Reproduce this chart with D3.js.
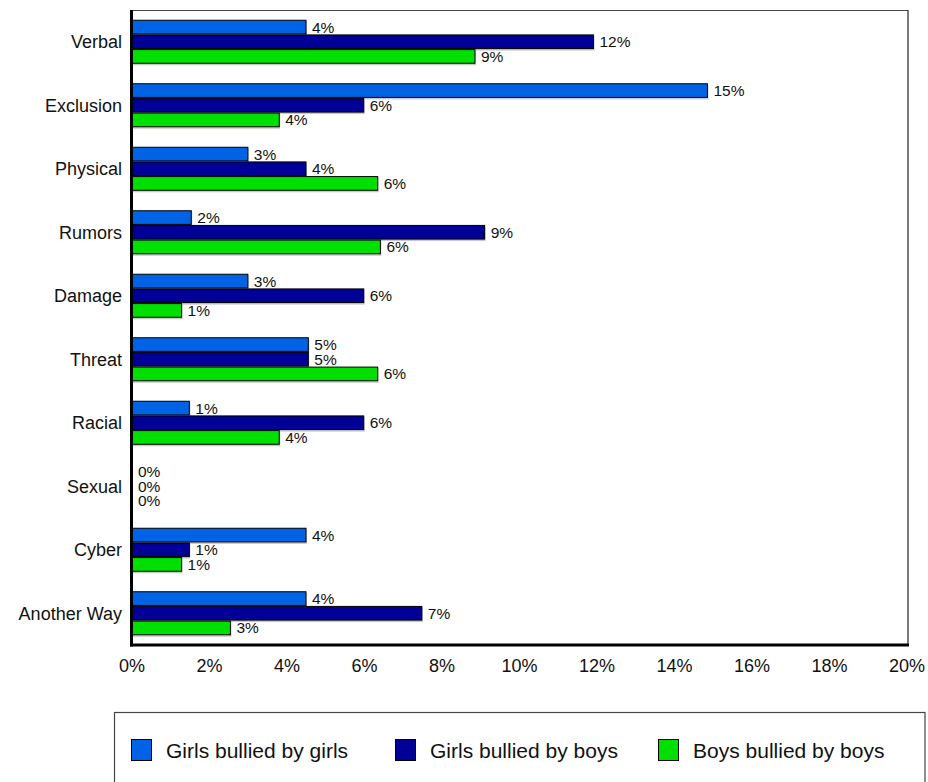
<!DOCTYPE html>
<html>
<head>
<meta charset="utf-8">
<script src="https://cdn.jsdelivr.net/npm/d3@7"></script>
<style>
  html, body { margin: 0; padding: 0; background: #fff; }
  svg { display: block; font-family: "Liberation Sans", Arial, sans-serif; }
</style>
</head>
<body>
<svg id="chart" width="928" height="782"></svg>
<script>
// ---- data ----
const categories = ["Verbal", "Exclusion", "Physical", "Rumors", "Damage", "Threat", "Racial", "Sexual", "Cyber", "Another Way"];
const seriesNames = ["Girls bullied by girls", "Girls bullied by boys", "Boys bullied by boys"];
const girlsByGirls = [4.49, 14.85, 2.99, 1.53, 2.99, 4.55, 1.48, 0, 4.49, 4.49];
const girlsByBoys  = [11.91, 5.98, 4.49, 9.10, 5.98, 4.55, 5.98, 0, 1.48, 7.48];
const boysByBoys   = [8.85, 3.80, 6.34, 6.41, 1.28, 6.34, 3.80, 0, 1.28, 2.54];
const xTicks = [0, 2, 4, 6, 8, 10, 12, 14, 16, 18, 20];
const colors = ["#0062E4", "#000096", "#00E000"];

const seriesValues = [girlsByGirls, girlsByBoys, boysByBoys];

const svg = d3.select("#chart");
const plotLeft = 132, plotRight = 907, plotTop = 10, plotBottom = 645;

const x = d3.scaleLinear().domain([0, 20]).range([plotLeft, plotRight]);
const y = d3.scaleBand().domain(categories).range([plotTop, plotBottom]).paddingInner(0.307).paddingOuter(0.1535);
const ySub = d3.scaleBand().domain(d3.range(3)).range([0, y.bandwidth()]);

// frame: top and right thin lines
svg.append("line").attr("x1", plotLeft).attr("x2", 908).attr("y1", 10.5).attr("y2", 10.5)
  .attr("stroke", "#444").attr("stroke-width", 1.2);
svg.append("line").attr("x1", 908).attr("x2", 908).attr("y1", 10).attr("y2", plotBottom)
  .attr("stroke", "#222").attr("stroke-width", 1.2);

// bars
const groups = svg.append("g").selectAll("g")
  .data(categories)
  .join("g")
  .attr("transform", d => `translate(0,${y(d)})`);

groups.each(function(cat, ci) {
  const g = d3.select(this);
  seriesValues.forEach((vals, si) => {
    const v = vals[ci];
    const y0 = ySub(si);
    const h = ySub.bandwidth();
    if (v > 0) {
      g.append("rect")
        .attr("x", x(0) + 1).attr("y", y0 + 1.5)
        .attr("width", x(v) - x(0)).attr("height", h)
        .attr("fill", "#c8c8c8");
      g.append("rect")
        .attr("x", x(0)).attr("y", y0 + 0.5)
        .attr("width", x(v) - x(0)).attr("height", h - 1)
        .attr("fill", colors[si])
        .attr("stroke", "#000").attr("stroke-width", 1);
    }
    g.append("text")
      .attr("x", x(v) + 6)
      .attr("y", y0 + h / 2)
      .attr("dy", "0.36em")
      .attr("font-size", 15.5)
      .attr("fill", "#111")
      .text(Math.round(v) + "%");
  });
});

// axes lines
svg.append("line").attr("x1", 131.5).attr("x2", 131.5).attr("y1", 10).attr("y2", plotBottom + 1.5)
  .attr("stroke", "#000").attr("stroke-width", 3);
svg.append("line").attr("x1", 130).attr("x2", 909).attr("y1", plotBottom).attr("y2", plotBottom)
  .attr("stroke", "#000").attr("stroke-width", 3);

// category labels
svg.append("g").selectAll("text")
  .data(categories)
  .join("text")
  .attr("x", 122)
  .attr("y", d => y(d) + y.bandwidth() / 2)
  .attr("dy", "0.36em")
  .attr("text-anchor", "end")
  .attr("font-size", 18)
  .attr("fill", "#111")
  .text(d => d);

// x tick labels
svg.append("g").selectAll("text")
  .data(xTicks)
  .join("text")
  .attr("x", d => x(d))
  .attr("y", 672)
  .attr("text-anchor", "middle")
  .attr("font-size", 18)
  .attr("fill", "#111")
  .text(d => d + "%");

// legend
svg.append("rect").attr("x", 114.5).attr("y", 712.5).attr("width", 810.5).attr("height", 100)
  .attr("fill", "none").attr("stroke", "#444").attr("stroke-width", 1.2);
const legX = [131, 395, 658];
const leg = svg.append("g").selectAll("g")
  .data(seriesNames)
  .join("g")
  .attr("transform", (d, i) => `translate(${legX[i]},0)`);
leg.append("rect").attr("x", 0.5).attr("y", 739.5).attr("width", 20).attr("height", 21)
  .attr("fill", (d, i) => colors[i]).attr("stroke", "#000").attr("stroke-width", 1);
leg.append("text").attr("x", 35).attr("y", 758)
  .attr("font-size", 21).attr("fill", "#111").text(d => d);
</script>
</body>
</html>
